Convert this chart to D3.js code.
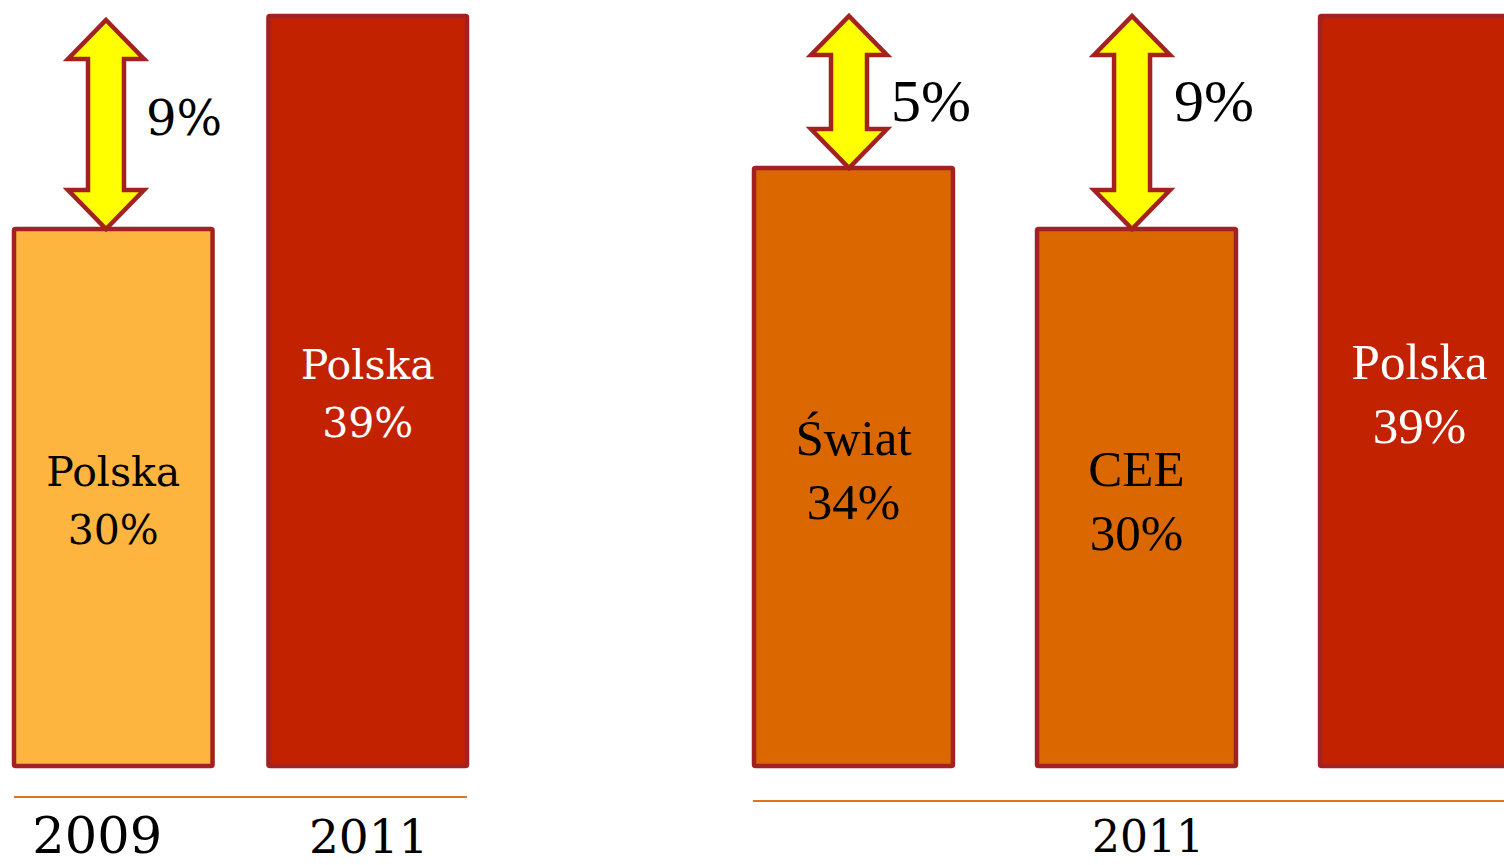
<!DOCTYPE html>
<meta charset="utf-8">
<style>
  html, body {
    margin: 0;
    padding: 0;
    background: #fff;
    overflow: hidden;
  }
  svg {
    display: block;
  }
  .bar {
    stroke: #a32121;
    stroke-width: 4.5;
  }
  .arrow {
    fill: #ffff00;
    stroke: #a32121;
    stroke-width: 4.5;
    stroke-linejoin: miter;
  }
  .base {
    stroke: #e3731a;
    stroke-width: 2;
  }
  .left text {
    font-family: "DejaVu Serif", serif;
  }
  .right text {
    font-family: "Liberation Serif", serif;
  }
</style>
<script src="https://cdn.jsdelivr.net/npm/d3@7"></script>
<body>
<script>
  // left panel: Polska 2009 vs 2011
  var leftYears = ["2009", "2011"];
  var leftNames = ["Polska", "Polska"];
  var leftValues = [30, 39];
  var leftGaps = [9, null];

  // right panel: 2011, Świat / CEE / Polska
  var rightNames = ["Świat", "CEE", "Polska"];
  var rightValues = [34, 30, 39];
  var rightGaps = [5, 9, null];
  var rightYear = "2011";

  var width = 1504, height = 865;

  var svg = d3.select('body').append('svg')
    .attr('width', width)
    .attr('height', height);

  // the slide isn't drawn to scale, so a piecewise scale keeps the bar tops where they were
  var y = d3.scaleLinear()
    .domain([0, 30, 34, 39])
    .range([766, 227, 166, 14]);

  var fills = {
    light: '#fdb53f',
    mid: '#db6700',
    dark: '#c22200'
  };

  function arrowPath(cx, top, bottom) {
    var hw = 38, sw = 18, hh = 39;
    return [
      [cx, top], [cx + hw, top + hh], [cx + sw, top + hh],
      [cx + sw, bottom - hh], [cx + hw, bottom - hh], [cx, bottom],
      [cx - hw, bottom - hh], [cx - sw, bottom - hh], [cx - sw, top + hh],
      [cx - hw, top + hh]
    ].map(function(p) { return p.join(','); }).join(' ');
  }

  function panel(cls, x, names, values, gaps, colors, opts) {
    var g = svg.append('g').attr('class', cls);
    var data = names.map(function(n, i) {
      return { key: x.domain()[i], name: n, value: values[i], gap: gaps[i], color: colors[i] };
    });

    g.selectAll('.bar')
      .data(data)
      .enter().append('rect')
      .attr('class', 'bar')
      .attr('x', d => x(d.key) + 2)
      .attr('y', d => y(d.value) + 2)
      .attr('width', x.bandwidth() - 4)
      .attr('height', d => y(0) - y(d.value) - 2)
      .attr('rx', 1.5)
      .attr('fill', d => d.color);

    var lab = g.selectAll('.lab')
      .data(data)
      .enter().append('text')
      .attr('class', 'lab')
      .attr('text-anchor', 'middle')
      .attr('font-size', opts.labelSize)
      .attr('fill', d => d.color === fills.dark ? '#fff' : '#000');
    lab.append('tspan')
      .attr('x', d => x(d.key) + x.bandwidth() / 2)
      .attr('y', d => (y(d.value) + y(0)) / 2 - 11)
      .text(d => d.name);
    lab.append('tspan')
      .attr('x', d => x(d.key) + x.bandwidth() / 2)
      .attr('y', d => (y(d.value) + y(0)) / 2 - 11 + opts.lineGap)
      .text(d => d.value + '%');

    var gapData = data.filter(d => d.gap != null);
    g.selectAll('.arrow')
      .data(gapData)
      .enter().append('polygon')
      .attr('class', 'arrow')
      .attr('points', d => arrowPath(x(d.key) + opts.arrowDx,
        y(d.value + d.gap) + opts.arrowTop, y(d.value) + 2));

    g.selectAll('.gap')
      .data(gapData)
      .enter().append('text')
      .attr('class', 'gap')
      .attr('font-size', opts.gapSize)
      .attr('x', d => x(d.key) + opts.arrowDx + opts.gapDx)
      .attr('y', d => y(d.value + d.gap) + opts.gapDy)
      .text(d => d.gap + '%');

    return g;
  }

  // left panel
  var xLeft = d3.scaleBand()
    .domain(leftYears)
    .range([12, 469])
    .paddingInner(0.204);

  var left = panel('left', xLeft, leftNames, leftValues, leftGaps,
    [fills.light, fills.dark],
    { labelSize: 41, lineGap: 58, gapSize: 48, arrowDx: 94, arrowTop: 6, gapDx: 40, gapDy: 121 });

  left.append('line')
    .attr('class', 'base')
    .attr('x1', 14).attr('x2', 467)
    .attr('y1', 797).attr('y2', 797);

  left.selectAll('.year')
    .data(leftYears)
    .enter().append('text')
    .attr('class', 'year')
    .attr('font-size', (d, i) => i === 0 ? 51 : 47)
    .attr('text-anchor', 'middle')
    .attr('x', (d, i) => xLeft(d) + xLeft.bandwidth() / 2 - (i === 0 ? 16 : -1))
    .attr('y', 853)
    .text(d => d);

  // right panel
  var xRight = d3.scaleBand()
    .domain(rightNames.map((d, i) => 'r' + i))
    .range([752, 1521])
    .paddingInner(0.283);

  var right = panel('right', xRight, rightNames, rightValues, rightGaps,
    [fills.mid, fills.mid, fills.dark],
    { labelSize: 51, lineGap: 64, gapSize: 60, arrowDx: 97, arrowTop: 2, gapDx: 42, gapDy: 107 });

  right.append('line')
    .attr('class', 'base')
    .attr('x1', 753).attr('x2', width)
    .attr('y1', 801).attr('y2', 801);

  right.append('text')
    .attr('font-size', 44)
    .attr('text-anchor', 'middle')
    .style('font-family', '"DejaVu Serif", serif')
    .attr('x', 1148)
    .attr('y', 852)
    .text(rightYear);
</script>
</body>
